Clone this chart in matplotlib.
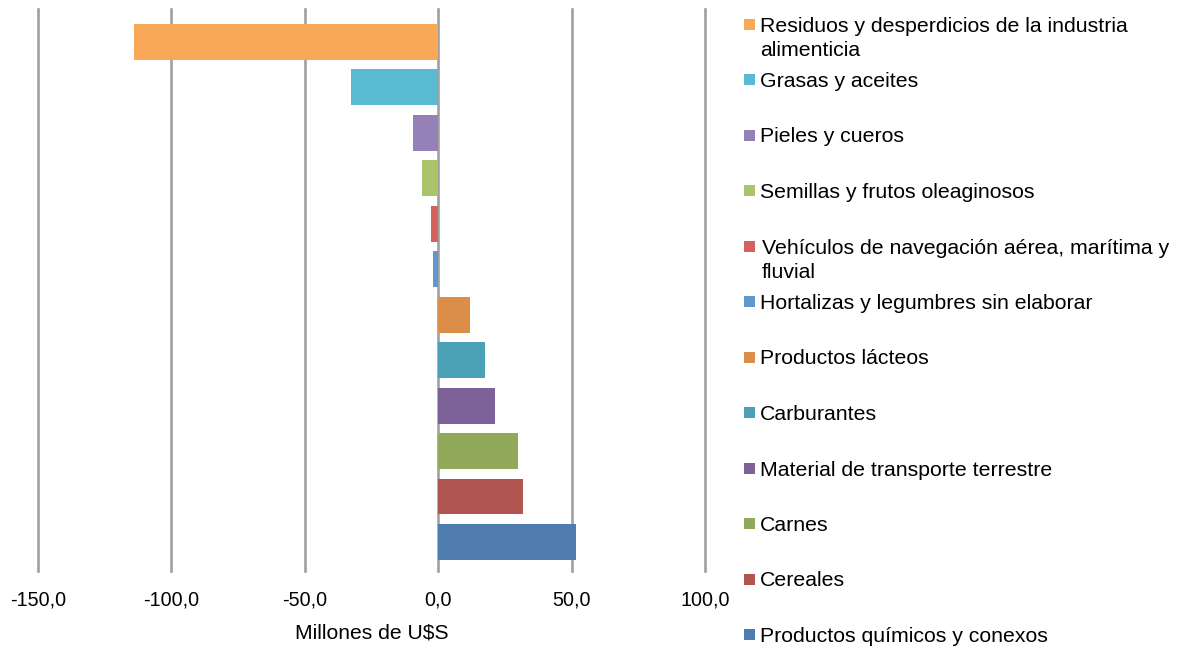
import matplotlib
matplotlib.use("Agg")
import matplotlib.pyplot as plt
from matplotlib.patches import Rectangle
from matplotlib.ticker import FuncFormatter

plt.rcParams['font.family'] = ['Liberation Sans', 'DejaVu Sans']

categories = [
    "Residuos y desperdicios de la industria\nalimenticia",
    "Grasas y aceites",
    "Pieles y cueros",
    "Semillas y frutos oleaginosos",
    "Vehículos de navegación aérea, marítima y\nfluvial",
    "Hortalizas y legumbres sin elaborar",
    "Productos lácteos",
    "Carburantes",
    "Material de transporte terrestre",
    "Carnes",
    "Cereales",
    "Productos químicos y conexos",
]
values = [-114.0, -32.6, -9.5, -6.0, -2.8, -2.0, 12.0, 17.6, 21.2, 30.0, 31.9, 51.8]
colors = ["#F9A857", "#5ABAD1", "#9580B8", "#A9C46A", "#D5625E", "#5F97CF",
          "#DB8E48", "#4AA1B5", "#7D6199", "#90A95A", "#B05550", "#4F7CAF"]
xticks = [-150, -100, -50, 0, 50, 100]

W, H = 1187, 653
fig = plt.figure(figsize=(W / 100, H / 100), dpi=100)

def fx(px):
    return px / W

def fy(py):
    return 1 - py / H

ax = fig.add_axes([fx(38), fy(571), fx(705) - fx(38), fy(9) - fy(571)])
pos = list(range(len(values)))
ax.barh(pos, values, height=0.79, color=colors, zorder=3)
ax.set_xlim(-150, 100)
ax.set_ylim(11.64, -0.726)
ax.set_xticks(xticks)
ax.xaxis.set_major_formatter(FuncFormatter(lambda v, p: f"{v:.1f}".replace(".", ",")))
ax.set_yticks([])
ax.tick_params(axis='x', length=0, pad=14, labelsize=14.2, colors='#000000')
for v in xticks:
    ax.axvline(v, color='#A0A0A0', lw=1.9, zorder=1, clip_on=False)
for s in ax.spines.values():
    s.set_visible(False)
ax.set_xlabel("Millones de U$S", fontsize=15.2, labelpad=10)

# legend (manual)
sq = 11
for i, (lab, c) in enumerate(zip(categories, colors)):
    cy = 24 + 55.5 * i
    fig.patches.append(Rectangle((fx(744), fy(cy + sq / 2)), fx(sq), sq / H,
                                 transform=fig.transFigure, facecolor=c, edgecolor='none'))
    nlines = lab.count("\n") + 1
    ty = cy + 2 + (nlines - 1) * 25 / 2
    xoff = 762 if lab.startswith("Veh") else 760
    fig.text(fx(xoff), fy(ty), lab, fontsize=15.3, va='center', ha='left',
             linespacing=1.38, color='#000000')

fig.savefig("out.png", dpi=100)
